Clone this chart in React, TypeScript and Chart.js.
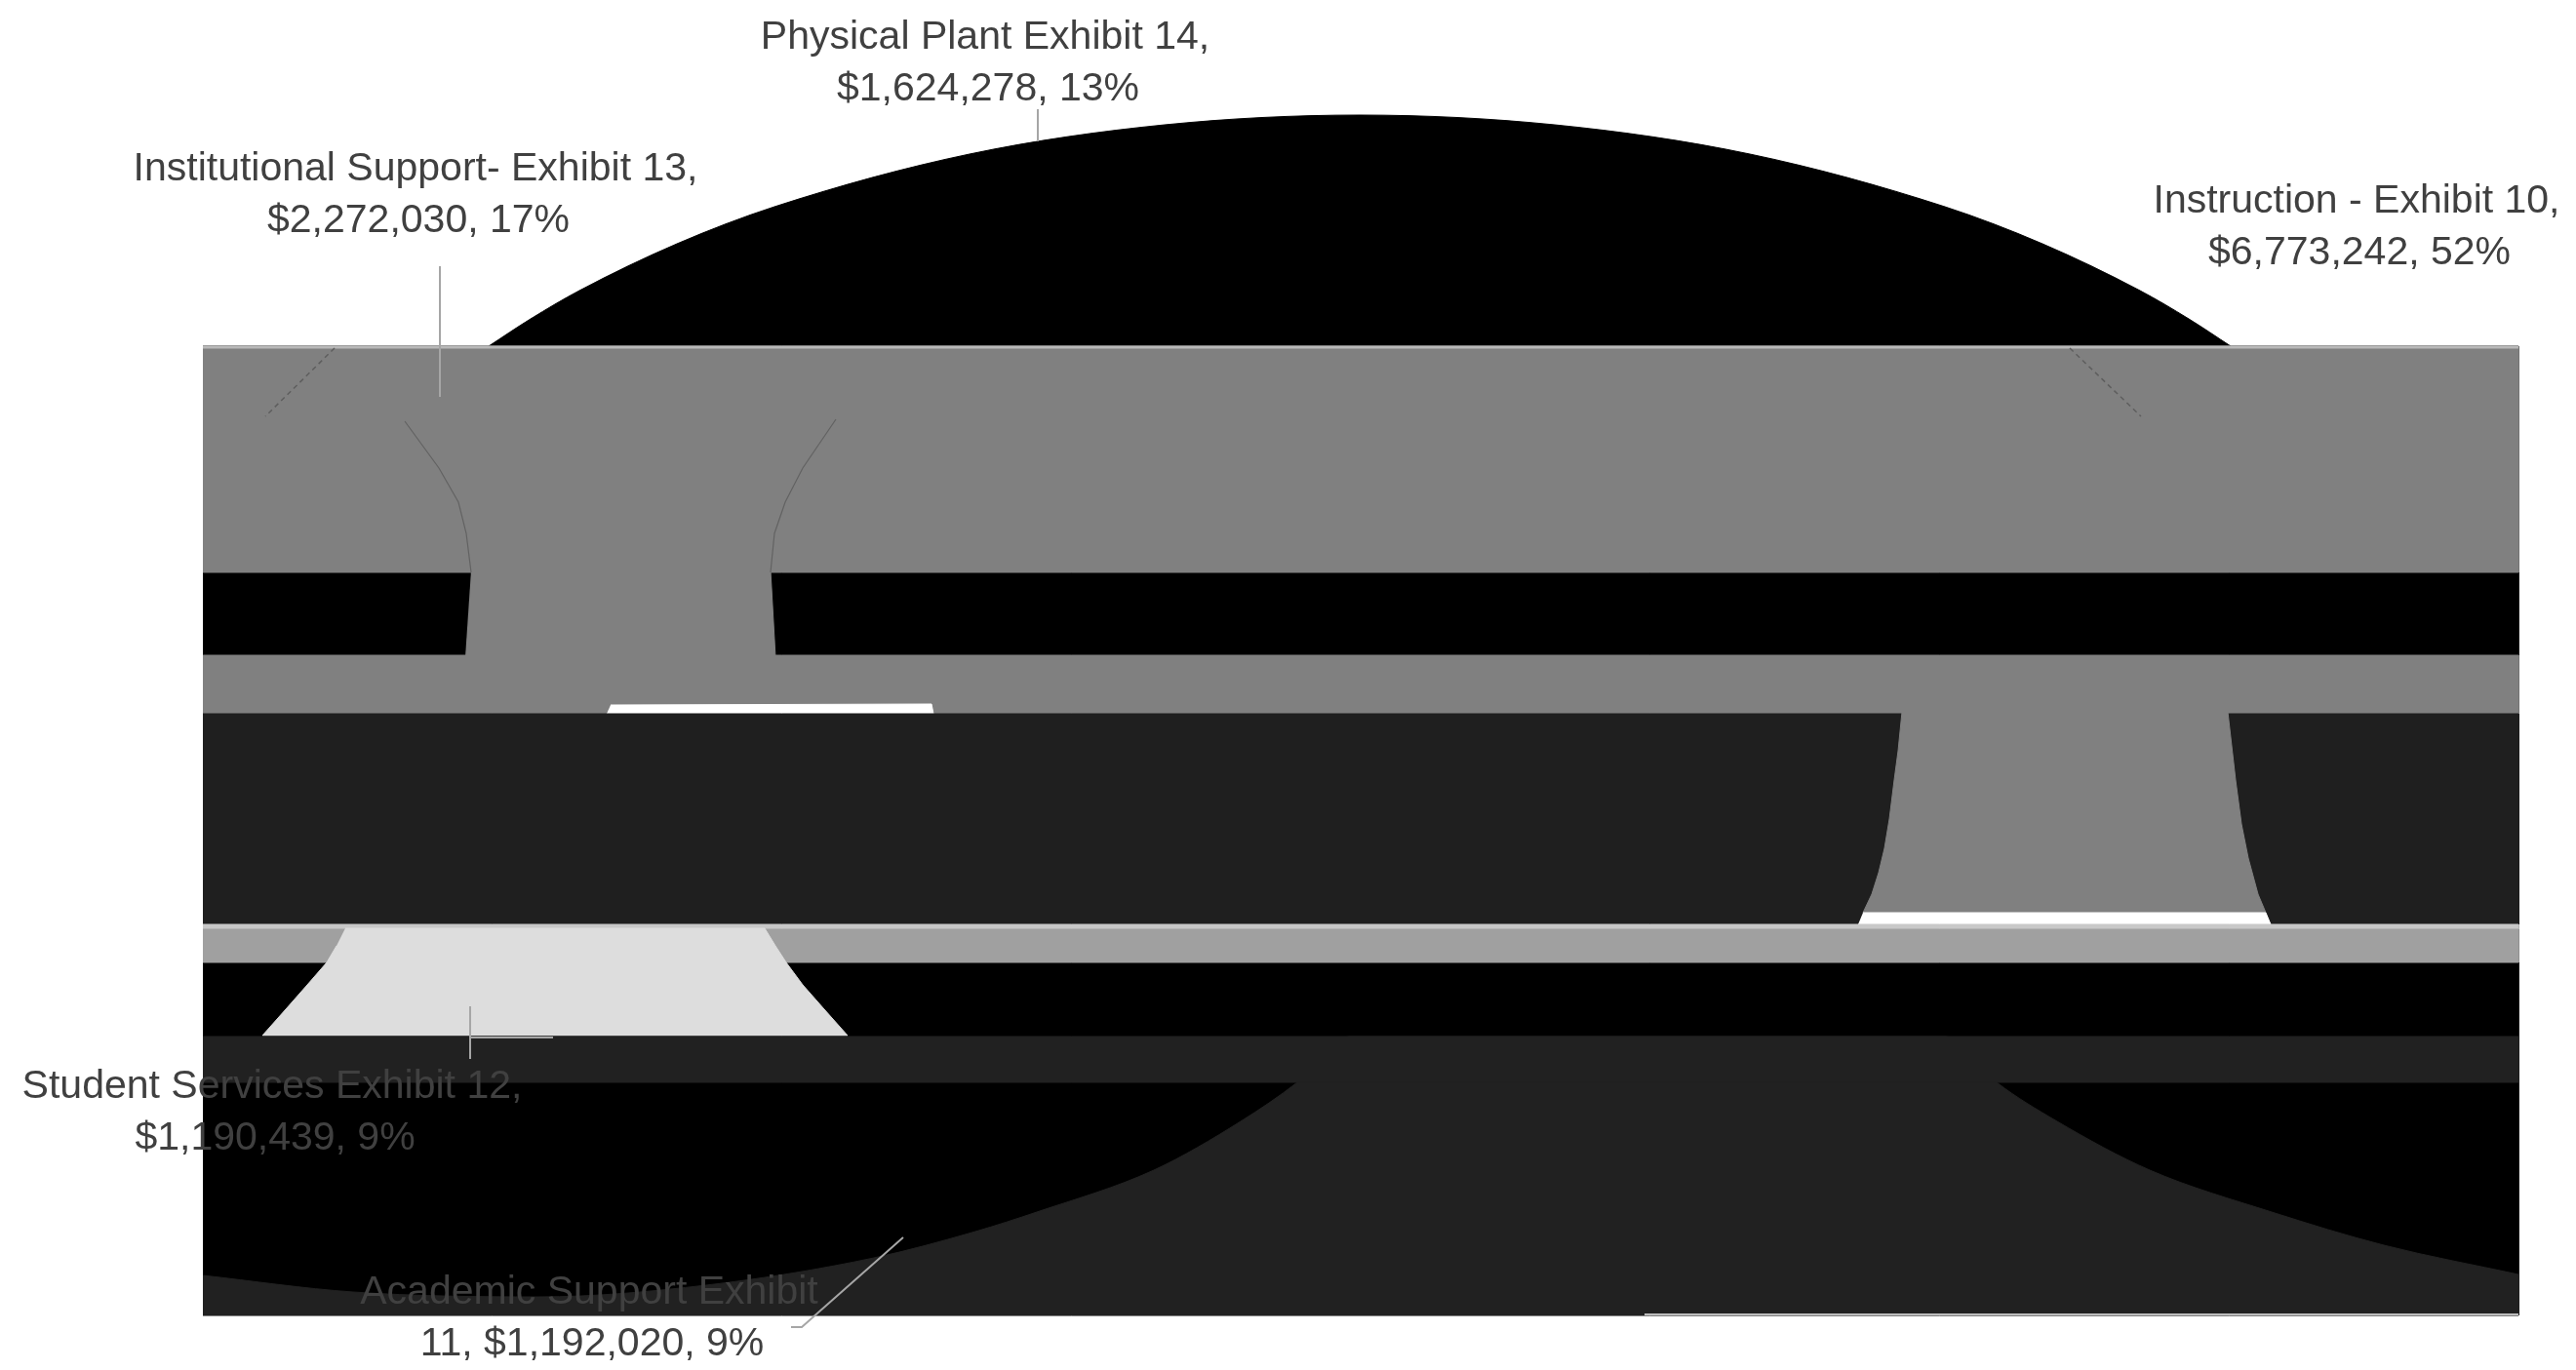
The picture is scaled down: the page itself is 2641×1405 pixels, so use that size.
import React, { useEffect, useRef } from "react";
import { Chart, registerables } from "chart.js";

Chart.register(...registerables);

// ---- Slice data (labels) ----
const categories = [
  "Instruction - Exhibit 10,",
  "Academic Support Exhibit",
  "Student Services Exhibit 12,",
  "Institutional Support- Exhibit 13,",
  "Physical Plant Exhibit 14,",
];
const amounts = [6773242, 1192020, 1190439, 2272030, 1624278];
const percents = [52, 9, 9, 17, 13];
const valuePrefix = ["", "11, ", "", "", ""];

// label anchors on the chart's value axes (centre x, first baseline y)
const labelX = [2416, 604, 279, 426, 1010];
const labelY = [218, 1337, 1126, 185, 50];

// ---- Shapes of the rendered 3-D pie (x, y on value axes) ----
type P = [number, number];
// curved outlines (x increasing) filled down/up to a level
const capCurve: P[] = [
  [501, 355], [544, 327], [594, 298], [694, 250], [794, 212], [994, 158], [1194, 128],
  [1394, 118], [1594, 128], [1794, 158], [1994, 212], [2094, 250], [2194, 298], [2244, 327],
  [2287, 355],
];
const capBase = 362;
const bottomCurve: P[] = [
  [208, 1308], [362, 1325], [552, 1330], [724, 1318], [896, 1290], [1000, 1263],
  [1063, 1243], [1183, 1200], [1272, 1150], [1330, 1110], [1384, 1063], [1994, 1063],
  [2047, 1110], [2109, 1150], [2204, 1200], [2329, 1243], [2444, 1277], [2582, 1307],
];
const bottomBase = 1349;

// polygons
const blackBody: P[] = [[208, 355], [2582, 355], [2582, 1349], [208, 1349]];
const grayBandTop: P[] = [[208, 355], [2582, 355], [2582, 587], [208, 587]];
const grayNeckLeft: P[] = [[483, 585], [790, 585], [795, 674], [477, 674]];
const grayBandMid: P[] = [[208, 672], [2582, 672], [2582, 732], [208, 732]];
const whiteStripLeft: P[] = [[626, 723], [955, 722], [957, 732], [622, 732]];
const darkBand: P[] = [[208, 732], [2582, 732], [2582, 948], [208, 948]];
const grayNeckRight: P[] = [
  [1950, 730], [1946, 770], [1942, 800], [1937, 840], [1932, 870], [1926, 895], [1919, 917],
  [1910, 936], [2323, 936], [2315, 917], [2305, 880], [2298, 845], [2292, 800], [2288, 765],
  [2284, 730],
];
const whiteStripRight: P[] = [[1910, 936], [2323, 936], [2328, 948], [1905, 948]];
const paleLine: P[] = [[208, 948], [2582, 948], [2582, 953], [208, 953]];
const lightBand: P[] = [[208, 953], [2582, 953], [2582, 987], [208, 987]];
const lightNeck: P[] = [
  [354, 952], [784, 952], [795, 970], [806, 987], [823, 1010], [845, 1035], [869, 1062],
  [269, 1062], [293, 1035], [315, 1010], [335, 987], [345, 970],
];
const darkBandLow: P[] = [[208, 1063], [2582, 1063], [2582, 1110], [208, 1110]];
const topEdge: P[] = [[208, 356], [2582, 356]];
const bottomEdge: P[] = [[1686, 1348], [2582, 1348]];

// faint seam lines inside the grey band
const seamLeftA: P[] = [[415, 432], [450, 480], [470, 515], [478, 547], [483, 587]];
const seamLeftB: P[] = [[857, 430], [823, 480], [805, 515], [794, 547], [790, 587]];
const seamDiagL: P[] = [[343, 357], [272, 427]];
const seamDiagR: P[] = [[2122, 357], [2195, 427]];

// leader lines
const leaderPhysical: P[] = [[1064, 112], [1064, 145]];
const leaderInstitutional: P[] = [[451, 273], [451, 407]];
const leaderStudent: P[] = [[482, 1032], [482, 1064], [567, 1064], [482, 1064], [482, 1086]];
const leaderAcademic: P[] = [[926, 1269], [822, 1361], [811, 1361]];

const fills: [P[], string][] = [
  [blackBody, "#000000"],
  [grayBandTop, "#808080"],
  [grayNeckLeft, "#808080"],
  [grayBandMid, "#808080"],
  [whiteStripLeft, "#ffffff"],
  [darkBand, "#1f1f1f"],
  [grayNeckRight, "#808080"],
  [whiteStripRight, "#ffffff"],
  [paleLine, "#c8c8c8"],
  [lightBand, "#a0a0a0"],
  [lightNeck, "#dddddd"],
];
const strokes: [P[], string, number, number[]][] = [
  [topEdge, "#b8b8b8", 3, []],
  [bottomEdge, "#bdbdbd", 2, []],
  [seamLeftA, "#626262", 1.2, []],
  [seamLeftB, "#626262", 1.2, []],
  [seamDiagL, "#5e5e5e", 1.5, [5, 4]],
  [seamDiagR, "#5e5e5e", 1.5, [5, 4]],
  [leaderPhysical, "#a6a6a6", 2, []],
  [leaderInstitutional, "#a6a6a6", 2, []],
  [leaderStudent, "#a6a6a6", 2, []],
  [leaderAcademic, "#a6a6a6", 2, []],
];

const fmt = (n: number) => "$" + n.toLocaleString("en-US");

const labelPlugin = {
  id: "sliceLabels",
  afterDatasetsDraw(chart: any) {
    const { ctx, scales } = chart;
    const xs = scales.x;
    const ys = scales.y;
    ctx.save();
    ctx.fillStyle = "#404040";
    ctx.font = '41px "Liberation Sans", Arial, sans-serif';
    ctx.textAlign = "center";
    ctx.textBaseline = "alphabetic";
    categories.forEach((name, i) => {
      const cx = xs.getPixelForValue(labelX[i]);
      const b1 = ys.getPixelForValue(labelY[i]);
      const b2 = ys.getPixelForValue(labelY[i] + 53);
      ctx.fillText(name, cx, b1);
      ctx.fillText(`${valuePrefix[i]}${fmt(amounts[i])}, ${percents[i]}%`, cx + 3, b2);
    });
    ctx.restore();
  },
};

const toXY = (pts: P[]) => pts.map(([x, y]) => ({ x, y }));

export default function App() {
  const ref = useRef<HTMLCanvasElement | null>(null);
  useEffect(() => {
    document.body.style.margin = "0";
    const canvas = ref.current!;
    const layers: any[] = [];
    const curve = (pts: P[], base: number, color: string) => ({
      data: toXY(pts),
      backgroundColor: color,
      borderColor: color,
      borderWidth: 1,
      fill: { value: base },
      pointRadius: 0,
      cubicInterpolationMode: "monotone",
    });
    const poly = (pts: P[], color: string) => ({
      data: toXY(pts),
      backgroundColor: color,
      borderColor: color,
      borderWidth: 1,
      fill: "shape",
      pointRadius: 0,
      tension: 0,
    });
    // bottom -> top
    layers.push(curve(capCurve, capBase, "#000000"));
    fills.forEach(([pts, color]) => layers.push(poly(pts, color)));
    layers.push(curve(bottomCurve, bottomBase, "#212121"));
    layers.push(poly(darkBandLow, "#212121"));
    strokes.forEach(([pts, color, w, dash]) =>
      layers.push({
        data: toXY(pts),
        borderColor: color,
        backgroundColor: color,
        borderWidth: w,
        borderDash: dash,
        fill: false,
        pointRadius: 0,
        tension: 0,
      })
    );
    const n = layers.length;
    layers.forEach((d, i) => (d.order = n - i));
    const chart = new Chart(canvas, {
      type: "line",
      data: { datasets: layers },
      options: {
        animation: false,
        responsive: false,
        devicePixelRatio: 1,
        layout: { padding: 0 },
        plugins: { legend: { display: false }, tooltip: { enabled: false } },
        events: [],
        scales: {
          x: { type: "linear", min: 0, max: 2641, display: false },
          y: { type: "linear", min: 0, max: 1405, reverse: true, display: false },
        },
      },
      plugins: [labelPlugin],
    });
    return () => chart.destroy();
  }, []);
  return (
    <div style={{ position: "fixed", left: 0, top: 0, width: 2641, height: 1405, background: "#fff" }}>
      <canvas ref={ref} width={2641} height={1405} style={{ display: "block" }} />
    </div>
  );
}
